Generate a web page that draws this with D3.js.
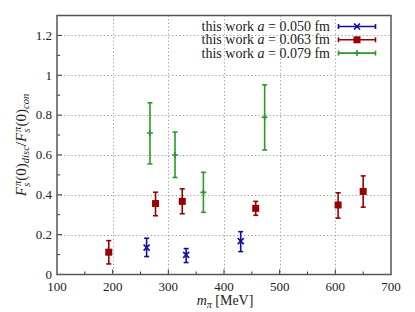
<!DOCTYPE html>
<html>
<head>
<meta charset="utf-8">
<script src="https://cdn.jsdelivr.net/npm/d3@7"></script>
<style>
html,body{margin:0;padding:0;background:#fff;}
svg text{font-family:"Liberation Serif","Times New Roman","DejaVu Serif",serif;}
</style>
</head>
<body>
<script>
// ---- data ----
const xTicks = [100, 200, 300, 400, 500, 600, 700];
const yTicks = [0, 0.2, 0.4, 0.6, 0.8, 1, 1.2];
const yTickLabels = ["0", "0.2", "0.4", "0.6", "0.8", "1", "1.2"];
const seriesNames = ["0.050", "0.063", "0.079"];
const seriesColors = ["#10109c", "#990000", "#2a9a2a"];
// a = 0.050 fm
const mpi050 = [261, 332, 430];
const val050 = [0.135, 0.099, 0.168];
const lo050  = [0.090, 0.060, 0.115];
const hi050  = [0.182, 0.130, 0.215];
// a = 0.063 fm
const mpi063 = [193, 277, 325, 457, 605, 650];
const val063 = [0.112, 0.356, 0.367, 0.332, 0.349, 0.417];
const lo063  = [0.053, 0.295, 0.305, 0.297, 0.283, 0.338];
const hi063  = [0.170, 0.413, 0.430, 0.367, 0.410, 0.495];
// a = 0.079 fm
const mpi079 = [267, 312, 363, 473];
const val079 = [0.710, 0.600, 0.412, 0.789];
const lo079  = [0.555, 0.487, 0.312, 0.625];
const hi079  = [0.862, 0.715, 0.513, 0.952];

const FONT = "Liberation Serif, DejaVu Serif, serif";
const W = 415, H = 312;
const svg = d3.select("body").append("svg").attr("width", W).attr("height", H)
  .attr("font-family", FONT);

const x = d3.scaleLinear().domain([100, 700]).range([57, 391]);
const y = d3.scaleLinear().domain([0, 1.3]).range([274.5, 15.5]);

// grid
const grid = svg.append("g").attr("stroke", "#9a9a9a").attr("stroke-width", 1).attr("stroke-dasharray", "1.2,2.4");
grid.selectAll("line.gx").data(xTicks.slice(1, -1)).join("line")
  .attr("x1", d => Math.round(x(d)) + 0.5).attr("x2", d => Math.round(x(d)) + 0.5)
  .attr("y1", y(1.3)).attr("y2", y(0));
grid.selectAll("line.gy").data(yTicks.slice(1)).join("line")
  .attr("y1", d => Math.round(y(d)) + 0.5).attr("y2", d => Math.round(y(d)) + 0.5)
  .attr("x1", x(100)).attr("x2", x(700));

// axes (ticks inward)
const gx = svg.append("g").attr("transform", `translate(0,${y(0)})`);
gx.selectAll("line.tk").data(d3.range(150, 700, 50)).join("line")
  .attr("x1", d => x(d)).attr("x2", d => x(d))
  .attr("y1", 0).attr("y2", d => (d % 100 === 0 ? -5 : -3))
  .attr("stroke", "#333").attr("stroke-width", 1);
gx.selectAll("text").data(xTicks).join("text")
  .attr("x", d => x(d)).attr("y", 16.5).attr("text-anchor", "middle")
  .attr("font-family", FONT).attr("font-size", 13).attr("fill", "#222").text(d => d);

const gy = svg.append("g").attr("transform", `translate(${x(100)},0)`);
gy.selectAll("line.tk").data(d3.range(0.1, 1.3, 0.1)).join("line")
  .attr("y1", d => y(d)).attr("y2", d => y(d))
  .attr("x1", 0).attr("x2", (d, i) => (i % 2 === 1 ? 5 : 3))
  .attr("stroke", "#333").attr("stroke-width", 1);
gy.selectAll("text").data(yTicks).join("text")
  .attr("x", -5).attr("y", d => y(d) + 4.3).attr("text-anchor", "end")
  .attr("font-family", FONT).attr("font-size", 13).attr("fill", "#222").text((d, i) => yTickLabels[i]);

// frame
svg.append("rect").attr("x", x(100)).attr("y", y(1.3))
  .attr("width", x(700) - x(100)).attr("height", y(0) - y(1.3))
  .attr("fill", "none").attr("stroke", "#555").attr("stroke-width", 1.5);

// series drawing
function drawSeries(mpi, val, lo, hi, color, marker) {
  const g = svg.append("g").attr("stroke", color).attr("fill", color);
  const data = mpi.map((m, i) => ({m, v: val[i], lo: lo[i], hi: hi[i]}));
  const cap = 2.5;
  g.selectAll("line.eb").data(data).join("line")
    .attr("x1", d => x(d.m)).attr("x2", d => x(d.m))
    .attr("y1", d => y(d.lo)).attr("y2", d => y(d.hi)).attr("stroke-width", 1.6);
  g.selectAll("line.c1").data(data).join("line")
    .attr("x1", d => x(d.m) - cap).attr("x2", d => x(d.m) + cap)
    .attr("y1", d => y(d.lo)).attr("y2", d => y(d.lo)).attr("stroke-width", 1.6);
  g.selectAll("line.c2").data(data).join("line")
    .attr("x1", d => x(d.m) - cap).attr("x2", d => x(d.m) + cap)
    .attr("y1", d => y(d.hi)).attr("y2", d => y(d.hi)).attr("stroke-width", 1.6);
  data.forEach(d => marker(g, x(d.m), y(d.v)));
}
function mkCross(g, cx, cy) {
  const s = 3;
  g.append("path").attr("d", `M${cx - s},${cy - s}L${cx + s},${cy + s}M${cx - s},${cy + s}L${cx + s},${cy - s}`)
    .attr("stroke-width", 1.7).attr("fill", "none");
}
function mkSquare(g, cx, cy) {
  const s = 3.5;
  g.append("rect").attr("x", cx - s).attr("y", cy - s).attr("width", 2 * s).attr("height", 2 * s).attr("stroke", "none");
}
function mkPlus(g, cx, cy) {
  const s = 3;
  g.append("path").attr("d", `M${cx - s},${cy}L${cx + s},${cy}M${cx},${cy - s}L${cx},${cy + s}`)
    .attr("stroke-width", 1.6).attr("fill", "none");
}
const markers = [mkCross, mkSquare, mkPlus];
drawSeries(mpi050, val050, lo050, hi050, seriesColors[0], markers[0]);
drawSeries(mpi063, val063, lo063, hi063, seriesColors[1], markers[1]);
drawSeries(mpi079, val079, lo079, hi079, seriesColors[2], markers[2]);

// legend
const legY = [26.5, 39.8, 53.1];
seriesNames.forEach((nm, i) => {
  svg.append("text").attr("x", 330).attr("y", legY[i] + 4.5).attr("text-anchor", "end")
    .attr("font-family", FONT).attr("font-size", 14).attr("fill", "#222")
    .attr("style", "white-space:pre")
    .html(`this work <tspan font-style="italic">a</tspan> = ${nm} fm`);
  const g = svg.append("g").attr("stroke", seriesColors[i]).attr("fill", seriesColors[i]);
  const x1 = 338.5, x2 = 375.5, yy = legY[i];
  g.append("line").attr("x1", x1).attr("x2", x2).attr("y1", yy).attr("y2", yy).attr("stroke-width", 1.6);
  g.append("line").attr("x1", x1).attr("x2", x1).attr("y1", yy - 2.5).attr("y2", yy + 2.5).attr("stroke-width", 1.6);
  g.append("line").attr("x1", x2).attr("x2", x2).attr("y1", yy - 2.5).attr("y2", yy + 2.5).attr("stroke-width", 1.6);
  markers[i](g, (x1 + x2) / 2, yy);
});

// x label
svg.append("text").attr("x", 225).attr("y", 305).attr("text-anchor", "middle")
  .attr("font-family", FONT).attr("font-size", 14).attr("fill", "#222")
  .html(`<tspan font-style="italic">m</tspan><tspan font-size="10" font-style="italic" dy="3">π</tspan><tspan dy="-3"> [MeV]</tspan>`);

// y label
function fPart(label) {
  return `<tspan font-style="italic">F</tspan>` +
    `<tspan font-size="10.5" font-style="italic" dy="-5.5" dx="1">π</tspan>` +
    `<tspan font-size="10.5" font-style="italic" dy="9.5" dx="-6">s</tspan>` +
    `<tspan dy="-4" dx="2">(0)</tspan>` +
    `<tspan font-size="10.5" font-style="italic" dy="3">${label}</tspan>`;
}
svg.append("text").attr("transform", `translate(26,${(y(0) + y(1.3)) / 2}) rotate(-90)`)
  .attr("text-anchor", "middle").attr("font-family", FONT).attr("font-size", 15).attr("fill", "#222")
  .html(fPart("disc") + `<tspan dy="-3">/</tspan>` + fPart("con"));
</script>
</body>
</html>
